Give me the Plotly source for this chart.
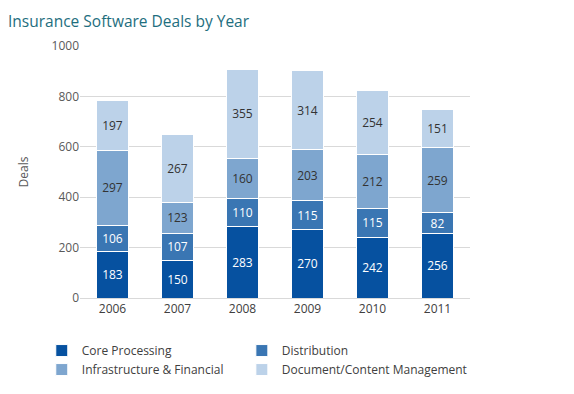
import plotly.graph_objects as go

years = ["2006", "2007", "2008", "2009", "2010", "2011"]
core_processing = [183, 150, 283, 270, 242, 256]
distribution = [106, 107, 110, 115, 115, 82]
infrastructure = [297, 123, 160, 203, 212, 259]
document_mgmt = [197, 267, 355, 314, 254, 151]

series = [
    ("Core Processing", core_processing, "#0651A0", "white", "legend"),
    ("Distribution", distribution, "#3A76B3", "white", "legend2"),
    ("Infrastructure & Financial", infrastructure, "#7EA6CF", "#333333", "legend"),
    ("Document/Content Management", document_mgmt, "#BCD2E9", "#333333", "legend2"),
]

fig = go.Figure()
for name, vals, color, tcolor, leg in series:
    fig.add_trace(go.Bar(
        x=years, y=vals, name=name, legend=leg,
        marker=dict(color=color, line=dict(color="white", width=1)),
        text=[str(v) for v in vals], textposition="inside",
        insidetextanchor="middle", textangle=0, constraintext="none",
        textfont=dict(color=tcolor, size=12, family="Open Sans"),
        hoverinfo="skip",
    ))

legend_common = dict(orientation="v", xanchor="left", yanchor="top",
                     traceorder="normal", itemwidth=30, tracegroupgap=0,
                     font=dict(size=12, color="#404040"), bgcolor="rgba(0,0,0,0)")

fig.update_layout(
    barmode="stack",
    bargap=0.52,
    width=574, height=394,
    margin=dict(l=80, r=104, t=46, b=96, autoexpand=False),
    paper_bgcolor="white", plot_bgcolor="white",
    font=dict(family="Open Sans", color="#595959", size=12),
    title=dict(text="Insurance Software Deals by Year", x=0.0, xanchor="left",
               y=0.945, yanchor="middle", pad=dict(l=8),
               font=dict(size=15.5, color="#1E6E7E", family="Open Sans")),
    showlegend=True,
    legend=dict(x=-0.098, y=-0.151, **legend_common),
    legend2=dict(x=0.415, y=-0.151, **legend_common),
)
fig.update_yaxes(range=[0, 1000], dtick=200, showgrid=True, gridcolor="#D9D9D9",
                 gridwidth=1, zeroline=False, showline=False,
                 title=dict(text="Deals", standoff=20, font=dict(size=12, color="#595959")),
                 tickfont=dict(size=12, color="#595959"), ticklen=0)
fig.update_xaxes(showline=True, linecolor="#D9D9D9", linewidth=1, ticks="",
                 tickfont=dict(size=12, color="#404040"))

fig.write_html("out.html", config={"displayModeBar": False},
               post_script="document.body.style.margin='0';")
